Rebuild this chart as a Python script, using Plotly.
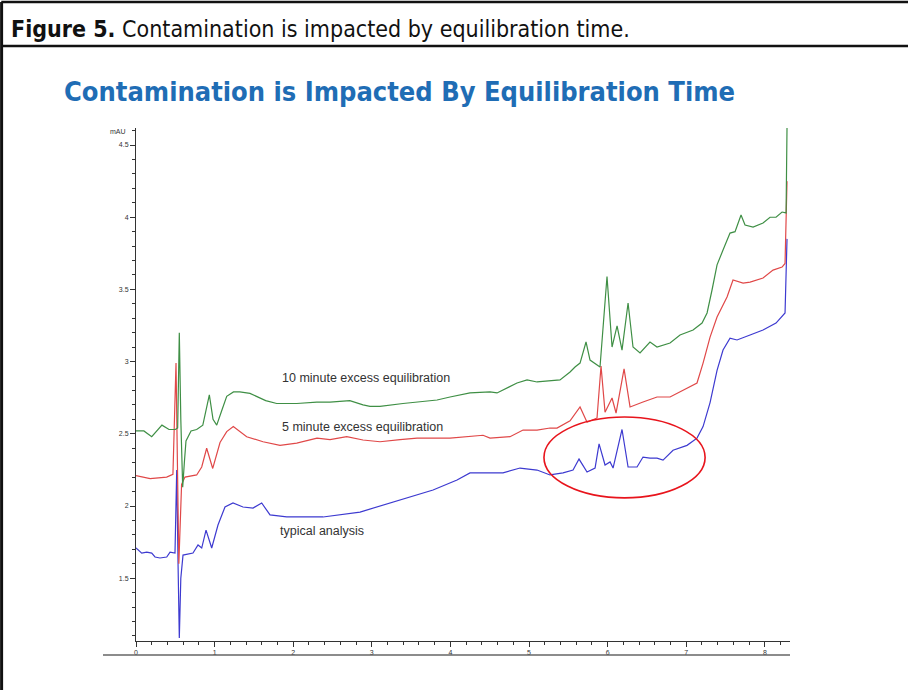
import plotly.graph_objects as go

# ---- data (time in min, absorbance in mAU) ----
t_10min = [0.00, 0.10, 0.20, 0.26, 0.33, 0.42, 0.50, 0.53, 0.551, 0.57, 0.594, 0.615, 0.636, 0.70,
           0.772, 0.85, 0.933, 0.98, 1.027, 1.09, 1.154, 1.24, 1.32, 1.45, 1.536, 1.65, 1.79, 1.87,
           2.045, 2.30, 2.468, 2.72, 2.888, 2.977, 3.104, 3.397, 3.60, 3.83, 3.995, 4.249, 4.504,
           4.593, 4.847, 4.975, 5.102, 5.394, 5.522, 5.585, 5.649, 5.725, 5.776, 5.903, 5.992,
           6.056, 6.120, 6.183, 6.260, 6.323, 6.412, 6.539, 6.628, 6.794, 6.921, 7.087, 7.201,
           7.265, 7.328, 7.392, 7.468, 7.557, 7.621, 7.697, 7.748, 7.850, 7.977, 8.066, 8.142,
           8.219, 8.270, 8.282]
v_10min = [2.52, 2.52, 2.48, 2.52, 2.56, 2.53, 2.53, 2.54, 3.20, 2.60, 2.13, 2.30, 2.45, 2.52,
           2.53, 2.56, 2.77, 2.60, 2.56, 2.66, 2.76, 2.79, 2.79, 2.78, 2.76, 2.73, 2.71, 2.71,
           2.71, 2.72, 2.72, 2.73, 2.70, 2.69, 2.69, 2.71, 2.72, 2.734, 2.755, 2.783, 2.79,
           2.783, 2.852, 2.873, 2.859, 2.873, 2.928, 2.963, 2.99, 3.136, 3.011, 2.963, 3.59,
           3.101, 3.247, 3.08, 3.406, 3.101, 3.06, 3.136, 3.101, 3.129, 3.184, 3.219, 3.267,
           3.337, 3.496, 3.67, 3.773, 3.89, 3.90, 4.015, 3.946, 3.932, 3.96, 4.00, 4.00,
           4.036, 4.03, 4.62]

t_5min = [0.00, 0.18, 0.39, 0.47, 0.509, 0.53, 0.545, 0.58, 0.623, 0.772, 0.836, 0.899, 0.976,
          1.069, 1.154, 1.238, 1.408, 1.616, 1.832, 2.045, 2.303, 2.468, 2.681, 2.888, 3.104,
          3.359, 3.575, 3.995, 4.249, 4.415, 4.504, 4.758, 4.924, 5.102, 5.267, 5.356, 5.522,
          5.649, 5.738, 5.865, 5.916, 5.967, 6.056, 6.107, 6.209, 6.285, 6.45, 6.628, 6.794,
          7.010, 7.137, 7.214, 7.303, 7.392, 7.519, 7.595, 7.723, 7.812, 7.977, 8.104, 8.219,
          8.257, 8.282]
v_5min = [2.21, 2.19, 2.20, 2.22, 2.99, 2.30, 1.60, 2.15, 2.20, 2.215, 2.27, 2.40, 2.26,
          2.44, 2.515, 2.55, 2.48, 2.445, 2.42, 2.436, 2.47, 2.46, 2.48, 2.457, 2.445,
          2.46, 2.47, 2.47, 2.48, 2.49, 2.47, 2.48, 2.526, 2.526, 2.54, 2.54, 2.59,
          2.686, 2.58, 2.61, 2.97, 2.65, 2.748, 2.644, 2.95, 2.686, 2.72, 2.755, 2.755,
          2.817, 2.852, 2.99, 3.17, 3.309, 3.447, 3.565, 3.544, 3.551, 3.579, 3.634, 3.655,
          3.68, 4.25]

t_typical = [0.00, 0.073, 0.136, 0.20, 0.242, 0.305, 0.391, 0.433, 0.496, 0.518, 0.535, 0.551,
             0.57, 0.598, 0.725, 0.789, 0.836, 0.891, 0.963, 1.043, 1.132, 1.234, 1.361, 1.489,
             1.599, 1.705, 1.917, 2.087, 2.379, 2.850, 3.359, 3.779, 4.084, 4.249, 4.466, 4.669,
             4.885, 5.102, 5.267, 5.433, 5.560, 5.636, 5.738, 5.840, 5.891, 5.967, 6.031, 6.069,
             6.183, 6.260, 6.374, 6.450, 6.539, 6.628, 6.705, 6.832, 7.010, 7.137, 7.214, 7.303,
             7.392, 7.468, 7.557, 7.646, 7.812, 7.977, 8.142, 8.219, 8.257, 8.282]
v_typical = [1.71, 1.674, 1.681, 1.674, 1.647, 1.640, 1.647, 1.681, 1.674, 2.25, 1.60, 1.086,
             1.50, 1.660, 1.674, 1.730, 1.709, 1.833, 1.709, 1.868, 1.993, 2.021, 1.993, 1.986,
             2.021, 1.938, 1.924, 1.924, 1.924, 1.958, 2.042, 2.111, 2.18, 2.229, 2.229, 2.229,
             2.263, 2.249, 2.215, 2.229, 2.249, 2.325, 2.235, 2.263, 2.43, 2.284, 2.305, 2.263,
             2.53, 2.27, 2.27, 2.339, 2.332, 2.332, 2.318, 2.386, 2.42, 2.47, 2.55, 2.716,
             2.94, 3.08, 3.163, 3.15, 3.184, 3.219, 3.267, 3.309, 3.337, 3.85]

x_ticks = [0, 1, 2, 3, 4, 5, 6, 7, 8]
y_ticks = [1.5, 2, 2.5, 3, 3.5, 4, 4.5]
y_tick_text = ["1.5", "2", "2.5", "3", "3.5", "4", "4.5"]

labels = ["10 minute excess equilibration", "5 minute excess equilibration", "typical analysis"]
label_t = [1.83, 1.83, 1.81]
label_v = [2.886, 2.547, 1.827]

# ---- figure ----
fig = go.Figure()
fig.add_trace(go.Scatter(x=t_typical, y=v_typical, mode="lines",
                         line=dict(color="#3d3ad0", width=1.2), hoverinfo="skip"))
fig.add_trace(go.Scatter(x=t_5min, y=v_5min, mode="lines",
                         line=dict(color="#e04848", width=1.2), hoverinfo="skip"))
fig.add_trace(go.Scatter(x=t_10min, y=v_10min, mode="lines",
                         line=dict(color="#3f8f45", width=1.2), hoverinfo="skip"))

for txt, tx, ty in zip(labels, label_t, label_v):
    fig.add_annotation(x=tx, y=ty, text=txt, showarrow=False, xanchor="left", yanchor="middle",
                       font=dict(family="Liberation Sans, Arial, sans-serif", size=12.5, color="#333"))

# highlight ellipse
fig.add_shape(type="circle", xref="x", yref="y", x0=5.19, x1=7.24, y0=2.056, y1=2.616,
              line=dict(color="#e8141c", width=1.6))

# mAU label
fig.add_annotation(xref="paper", yref="paper", x=-0.012, y=0.994, text="mAU", showarrow=False,
                   xanchor="right", yanchor="middle",
                   font=dict(family="Liberation Sans, Arial, sans-serif", size=7, color="#333"))

# gray base line under the axis
fig.add_shape(type="line", xref="paper", yref="paper", x0=-0.0505, x1=1.0, y0=-0.0273, y1=-0.0273,
              line=dict(color="#666", width=1.6))

# frame and caption box
frame = dict(color="#111", width=2.5)
fig.add_shape(type="line", xref="paper", yref="paper", x0=-0.206, x1=1.332, y0=1.2456, y1=1.2456, line=frame)
fig.add_shape(type="line", xref="paper", yref="paper", x0=-0.206, x1=1.332, y0=1.160, y1=1.160, line=frame)
fig.add_shape(type="line", xref="paper", yref="paper", x0=-0.2055, x1=-0.2055, y0=-0.1, y1=1.2456,
              line=dict(color="#111", width=3))
fig.add_shape(type="line", xref="paper", yref="paper", x0=1.3295, x1=1.3295, y0=-0.1, y1=1.2456, line=frame)

condensed = "Liberation Sans Narrow, DejaVu Sans Condensed, Arial Narrow, sans-serif"
fig.add_annotation(xref="paper", yref="paper", x=-0.194, y=1.193, xanchor="left", yanchor="middle",
                   text="<b>Figure 5.</b> Contamination is impacted by equilibration time.",
                   showarrow=False, font=dict(family=condensed, size=23, color="#111"))
fig.add_annotation(xref="paper", yref="paper", x=-0.1135, y=1.0702, xanchor="left", yanchor="middle",
                   text="<b>Contamination is Impacted By Equilibration Time</b>",
                   showarrow=False, font=dict(family=condensed, size=27, color="#1f6db5"))

tickfont = dict(family="Liberation Sans, Arial, sans-serif", size=7, color="#333")
fig.update_layout(
    width=908, height=690,
    margin=dict(l=136, r=118, t=128, b=49),
    paper_bgcolor="white", plot_bgcolor="white",
    showlegend=False,
    xaxis=dict(range=[0, 8.32], showgrid=False, zeroline=False, showline=True, linecolor="#333",
               linewidth=1, ticks="outside", ticklen=5, tickcolor="#333", tickvals=x_ticks,
               tickfont=tickfont,
               minor=dict(dtick=0.2, ticks="outside", ticklen=3, tickcolor="#333")),
    yaxis=dict(range=[1.065, 4.618], showgrid=False, zeroline=False, showline=True, linecolor="#333",
               linewidth=1, ticks="outside", ticklen=5, tickcolor="#333", tickvals=y_ticks,
               ticktext=y_tick_text, tickfont=tickfont,
               minor=dict(dtick=0.1, tick0=0, ticks="outside", ticklen=3, tickcolor="#333")),
)

fig.write_html("out.html", config={"displayModeBar": False},
               post_script="document.body.style.margin='0px';")
